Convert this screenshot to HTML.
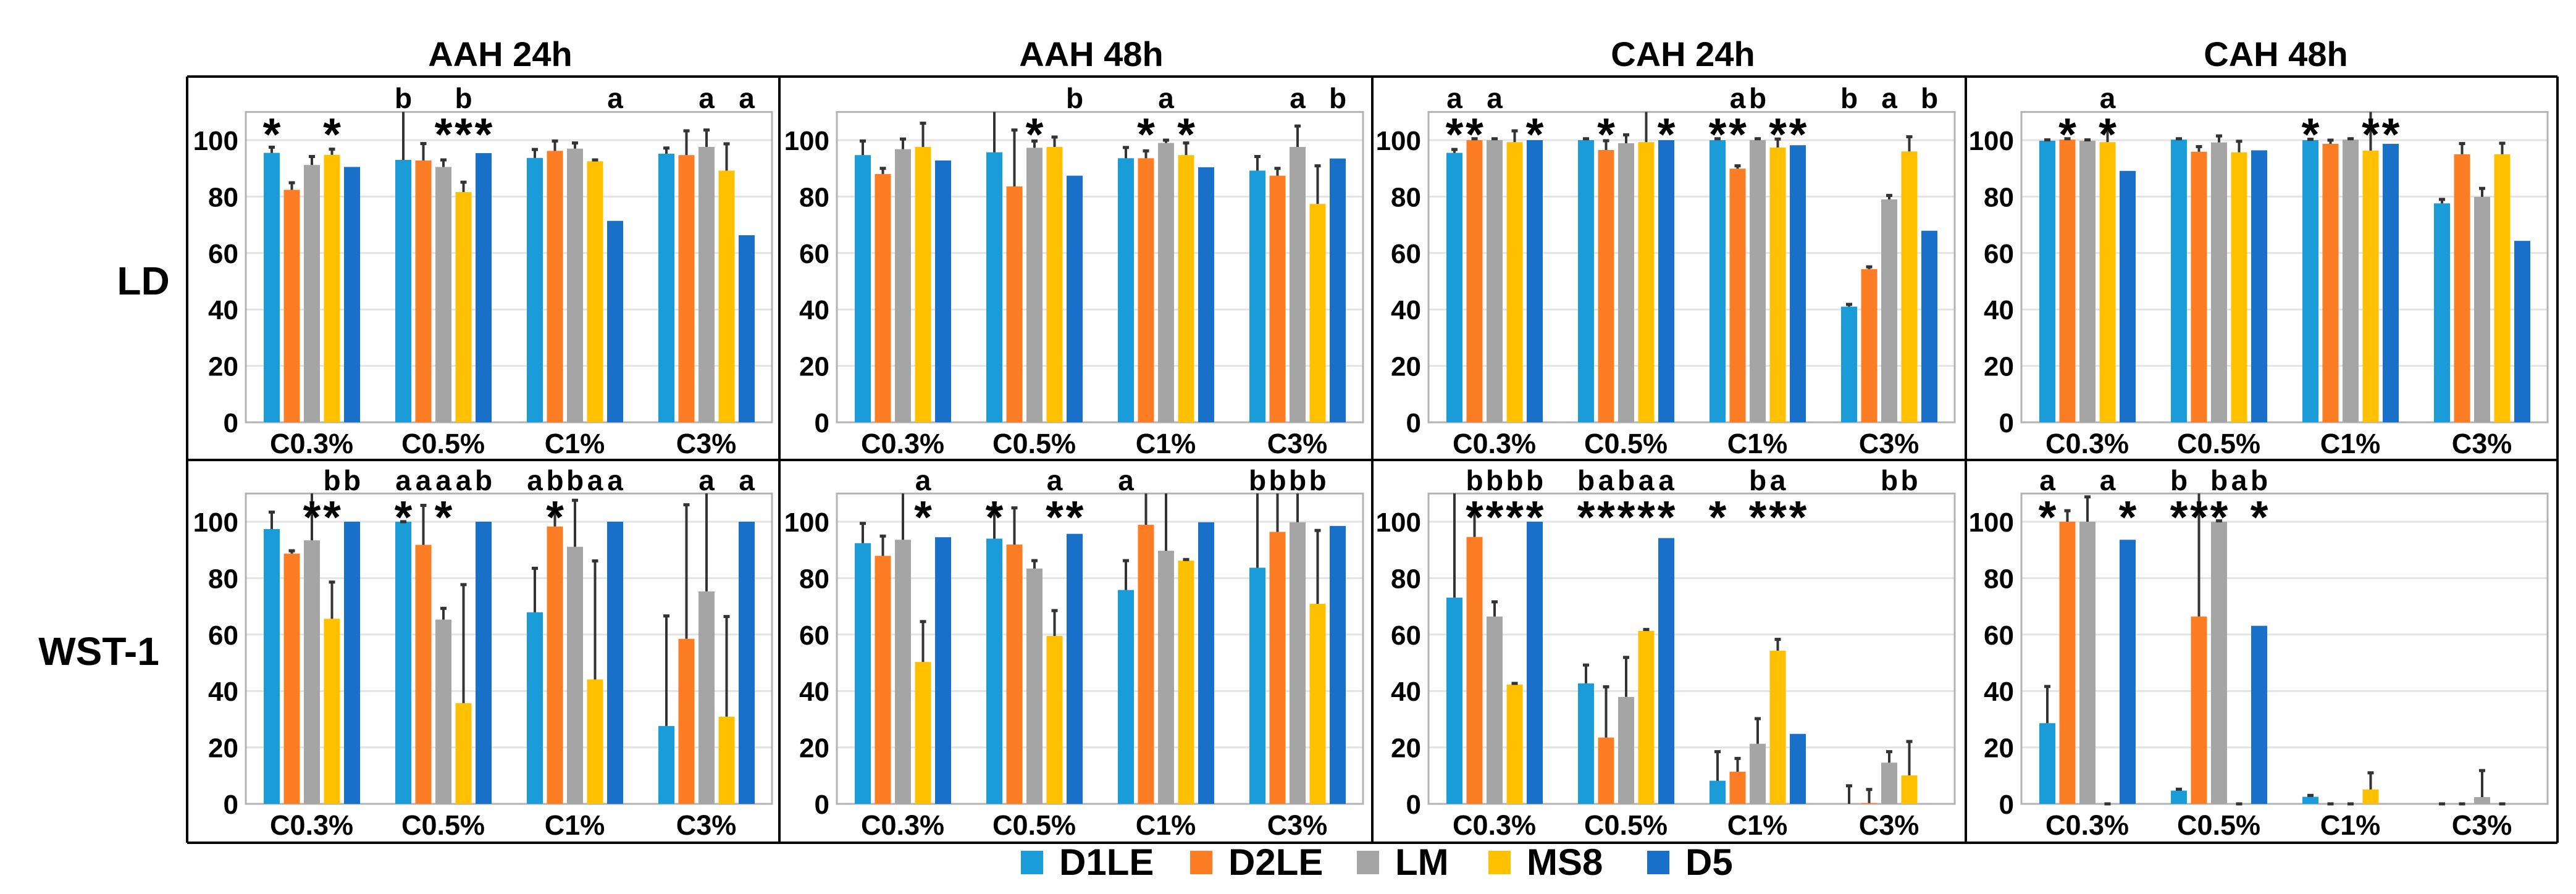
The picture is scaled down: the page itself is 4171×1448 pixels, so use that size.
<!DOCTYPE html>
<html><head><meta charset="utf-8">
<style>
html,body{margin:0;padding:0;background:#fff;}
svg{display:block;font-family:"Liberation Sans",Arial,sans-serif;}
</style></head>
<body>
<svg id="chart" width="4171" height="1448" viewBox="0 0 4171 1448" xmlns="http://www.w3.org/2000/svg">
<rect width="4171" height="1448" fill="#fff"/>
<g id="frame" stroke="#000" stroke-width="4" fill="none">
<line x1="303" y1="124" x2="4141" y2="124"/>
<line x1="303" y1="745" x2="4141" y2="745"/>
<line x1="303" y1="1365" x2="4141" y2="1365"/>
<line x1="303" y1="124" x2="303" y2="1365"/>
<line x1="1262" y1="124" x2="1262" y2="1365"/>
<line x1="2222" y1="124" x2="2222" y2="1365"/>
<line x1="3183" y1="124" x2="3183" y2="1365"/>
<line x1="4141" y1="124" x2="4141" y2="1365"/>
</g>
<text x="232" y="477" font-size="64" font-weight="bold" text-anchor="middle">LD</text>
<text x="160" y="1077" font-size="64" font-weight="bold" text-anchor="middle">WST-1</text>
<g id="legend"></g>
<g id="panels"></g>
</svg>
<script>
const NS="http://www.w3.org/2000/svg";
const series=["D1LE","D2LE","LM","MS8","D5"];
const colors=["#1a9cd8","#fd7d24","#a5a5a5","#ffc000","#1870c8"];
const groups=["C0.3%","C0.5%","C1%","C3%"];
const titles=["AAH 24h","AAH 48h","CAH 24h","CAH 48h"];
const yTicks=[0,20,40,60,80,100];

const ld_aah24=[95.5,82.4,91.2,94.8,90.5, 93,92.8,90.5,81.6,95.4, 93.7,96.2,97,92.5,71.4, 95.2,94.7,97.6,89.2,66.3];
const ld_aah24_err=[2,2.5,3,2,0, 20,6,2.5,3.5,0, 3,3.5,2,0.5,0, 2,8.6,6,9.5,0];
const ld_aah24_let=["","","","","", "b","","","b","", "","","","","a", "","","a","","a"];
const ld_aah24_star=[1,0,0,1,0, 0,0,1,1,1, 0,0,0,0,0, 0,0,0,0,0];

const ld_aah48=[94.7,88,96.8,97.6,92.8, 95.7,83.6,97.3,97.6,87.4, 93.6,93.6,99,94.7,90.4, 89.2,87.4,97.6,77.4,93.5];
const ld_aah48_err=[5,2,3.6,8.4,0, 20,20,2.4,3.5,0, 3.8,2.6,1,4.3,0, 5,2.6,7.4,13.5,0];
const ld_aah48_let=["","","","","", "","","","","b", "","","a","","", "","","a","","b"];
const ld_aah48_star=[0,0,0,0,0, 0,0,1,0,0, 0,1,0,1,0, 0,0,0,0,0];

const ld_cah24=[95.5,100,100,99.3,100, 100,96.5,98.9,99.3,100, 100,89.9,100,97.4,98.2, 41,54.3,79,96,67.9];
const ld_cah24_err=[1.2,0.5,0.5,4,0, 0.5,3.3,3,20,0, 0.5,1,0.5,3,0, 0.8,0.8,1.4,5.2,0];
const ld_cah24_let=["a","","a","","", "","","","","", "","a","b","","", "b","","a","","b"];
const ld_cah24_star=[1,1,0,0,1, 0,1,0,0,1, 1,1,0,1,1, 0,0,0,0,0];

const ld_cah48=[99.8,100.2,99.8,99.3,89.1, 100.2,95.9,99.2,95.7,96.4, 100,98.7,100.2,96.3,98.7, 77.6,95,79.9,95,64.3];
const ld_cah48_err=[0.3,0.3,0.3,5.2,0, 0.3,1.8,2.3,3.9,0, 0.3,1.3,0.3,14,0, 1.4,3.8,3,3.9,0];
const ld_cah48_let=["","","","a","", "","","","","", "","","","","", "","","","",""];
const ld_cah48_star=[0,1,0,1,0, 0,0,0,0,0, 1,0,0,1,1, 0,0,0,0,0];

const wst_aah24=[97.4,88.7,93.4,65.6,100, 100,91.8,65.3,35.7,100, 67.9,98.3,91.1,44.1,100, 27.6,58.5,75.3,30.9,100];
const wst_aah24_err=[6,1,20,13,0, 0,14,4,42,0, 15.6,5,16.5,42,0, 39,47.5,35,35.5,0];
const wst_aah24_let=["","","","b","b", "a","a","a","a","b", "a","b","b","a","a", "","","a","","a"];
const wst_aah24_star=[0,0,1,1,0, 1,0,1,0,0, 0,1,0,0,0, 0,0,0,0,0];

const wst_aah48=[92.4,87.9,93.6,50.3,94.5, 94,91.9,83.4,59.5,95.7, 75.8,98.9,89.7,86.2,99.8, 83.7,96.4,99.8,70.9,98.5];
const wst_aah48_err=[7,7,20,14.3,0, 11,13,2.8,9,0, 10.4,20,25,0.4,0, 30,20,15,26,0];
const wst_aah48_let=["","","","a","", "","","","a","", "a","","","","", "b","b","b","b",""];
const wst_aah48_star=[0,0,0,1,0, 1,0,0,1,1, 0,0,0,0,0, 0,0,0,0,0];

const wst_cah24=[73.1,94.6,66.4,42.3,100, 42.7,23.5,37.9,61.3,94.2, 8.2,11.4,21.3,54.3,24.8, 0,0.3,14.6,10.1,0];
const wst_cah24_err=[40,9.2,5.2,0.4,0, 6.5,18,14,0.5,0, 10.3,4.7,8.9,4,0, 6.4,4.8,3.9,12,0];
const wst_cah24_let=["","b","b","b","b", "b","a","b","a","a", "","","b","a","", "","","b","b",""];
const wst_cah24_star=[0,1,1,1,1, 1,1,1,1,1, 1,0,1,1,1, 0,0,0,0,0];

const wst_cah48=[28.6,100,100,0,93.6, 4.7,66.4,100,0,63.1, 2.5,0,0,5.1,0, 0,0,2.4,0,0];
const wst_cah48_err=[13,3.9,8.8,0,0, 0.5,50,0.3,0,0, 0.5,0,0,5.9,0, 0,0,9.4,0,0];
const wst_cah48_let=["a","","","a","", "b","","b","a","b", "","","","","", "","","","",""];
const wst_cah48_star=[1,0,0,0,1, 1,1,1,0,1, 0,0,0,0,0, 0,0,0,0,0];

const panelVals=[ld_aah24,ld_aah48,ld_cah24,ld_cah48,wst_aah24,wst_aah48,wst_cah24,wst_cah48];
const panelErrs=[ld_aah24_err,ld_aah48_err,ld_cah24_err,ld_cah48_err,wst_aah24_err,wst_aah48_err,wst_cah24_err,wst_cah48_err];
const panelLets=[ld_aah24_let,ld_aah48_let,ld_cah24_let,ld_cah48_let,wst_aah24_let,wst_aah48_let,wst_cah24_let,wst_cah48_let];
const panelStars=[ld_aah24_star,ld_aah48_star,ld_cah24_star,ld_cah48_star,wst_aah24_star,wst_aah48_star,wst_cah24_star,wst_cah48_star];

const plotLefts=[398,1355,2313,3273];
const plotW=852, rowY0=[684,1302], unit=4.57, yMax=110;
function mk(tag,attrs,parent){const e=document.createElementNS(NS,tag);for(const k in attrs)e.setAttribute(k,attrs[k]);parent.appendChild(e);return e;}
const root=document.getElementById('panels');

for(let c=0;c<4;c++){
  const t=mk('text',{x:plotLefts[c]+plotW/2-14,y:107,'font-size':56,'font-weight':'bold','text-anchor':'middle'},root);
  t.textContent=titles[c];
  
  
}

for(let p=0;p<8;p++){
  const col=p%4,row=Math.floor(p/4);
  const L=plotLefts[col],y0=rowY0[row];
  const yS=v=>y0-Math.min(v,yMax)*unit;
  const g=mk('g',{},root);
  
  
  yTicks.forEach(t=>{
    if(t>0){const gl=mk('line',{x1:L,x2:L+plotW,y1:yS(t),y2:yS(t),stroke:'#e3e3e3','stroke-width':3},g);
      
      }
    const tl=mk('text',{x:L-12,y:yS(t)+16,'font-size':44,'font-weight':'bold','text-anchor':'end'},g);
    tl.textContent=t;
    
    
  });
  const box=mk('rect',{x:L,y:yS(yMax),width:plotW,height:yMax*unit,fill:'none',stroke:'#b3b3b3','stroke-width':3},g);
  
  
  const vals=panelVals[p],errs=panelErrs[p],lets=panelLets[p],stars=panelStars[p];
  const gw=plotW/4;
  groups.forEach((gname,gi)=>{
    const xl=mk('text',{x:L+gi*gw+gw/2,y:y0+50,'font-size':45,'font-weight':'bold','text-anchor':'middle'},g);
    xl.textContent=gname;
    
    
    for(let s=0;s<5;s++){
      const i=gi*5+s;
      const cx=L+gi*gw+42+s*32.5;
      const v=vals[i];
      const b=mk('rect',{x:cx-13,y:yS(v),width:26,height:y0-yS(v),fill:colors[s]},g);
      
      
      if(s<4){
        const top=yS(v+errs[i]);
        const el=mk('line',{x1:cx,x2:cx,y1:yS(v),y2:top,stroke:'#333','stroke-width':4},g);
        
        
        if(v+errs[i]<yMax){
          const cap=mk('line',{x1:cx-5,x2:cx+5,y1:top,y2:top,stroke:'#333','stroke-width':5},g);
          
          
        }
      }
      if(lets[i]){
        const lt=mk('text',{x:cx,y:row?794:175,'font-size':46,'font-weight':'bold','text-anchor':'middle'},g);
        lt.textContent=lets[i];
        
        
      }
      if(stars[i]){
        const st=mk('text',{x:cx,y:(row?824:204)+39,'font-size':74,'font-weight':'bold','text-anchor':'middle'},g);
        st.textContent='*';
        
        
      }
    }
  });
}

const leg=document.getElementById('legend');
const legX=[1653,1927,2197,2410,2667];
series.forEach((s,i)=>{
  const sw=mk('rect',{x:legX[i],y:1378,width:36,height:38,fill:colors[i]},leg);
  
  
  const t=mk('text',{x:legX[i]+62,y:1417,'font-size':60,'font-weight':'bold'},leg);
  t.textContent=s;
  
  
});
</script>
</body></html>
